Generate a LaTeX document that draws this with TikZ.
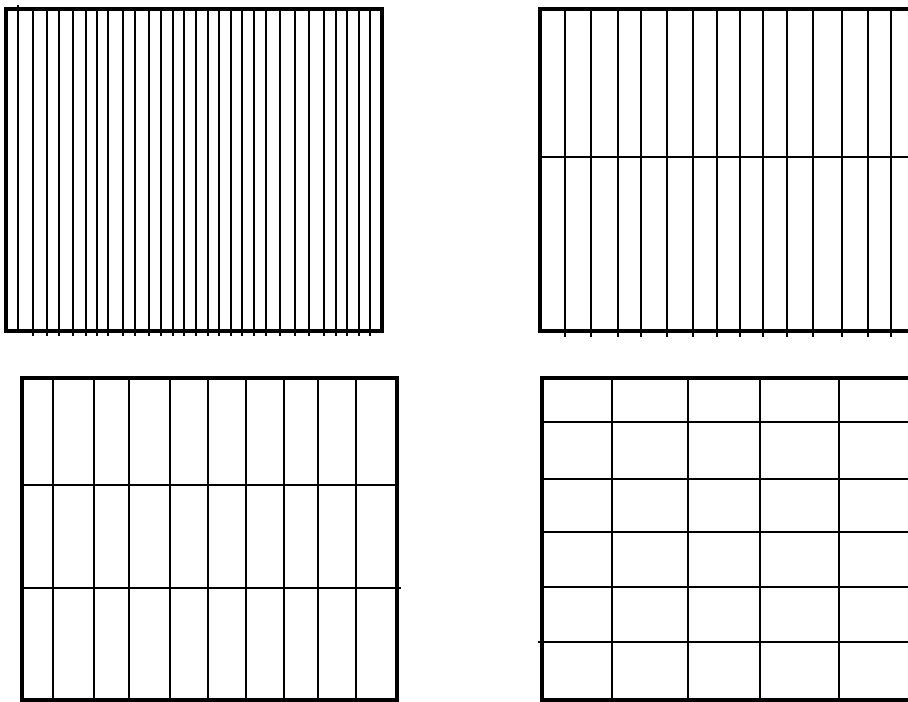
\documentclass[tikz,border=0pt]{standalone}
\usepackage{tikz}
\begin{document}
\begin{tikzpicture}[x=0.02cm,y=-0.02cm,
  frame/.style={line width=2.6pt},
  bar/.style={line width=1pt}]
\useasboundingbox (0,0) rectangle (908,702);
\clip (0,0) rectangle (908,702);
% top left: many strips
\draw[bar] (17.7,5) -- (17.7,331);
\foreach \x in {32.7,47,59,73,86,97,108,123,135,149,161,173,184,196,208,219,231,242,254,266,280,295,309,324,336,347,359,370}
  \draw[bar] (\x,11) -- (\x,336);
\draw[frame] (6,9) rectangle (382,331);
% top right: strips, one cut
\foreach \x in {565,591,618,641,667,693,717,740,763,787,813,842,868,891}
  \draw[bar] (\x,9) -- (\x,337);
\draw[bar] (540,157) -- (908,157);
\draw[frame] (540,9) rectangle (930,331);
% bottom left: wider strips, two cuts
\foreach \x in {53,94,129,170,208,246,284,318,356}
  \draw[bar] (\x,378) -- (\x,700);
\draw[bar] (22,485) -- (397,485);
\draw[bar] (22,588) -- (401,588);
\draw[frame] (22,378) rectangle (397,700);
% bottom right: grid
\foreach \x in {612,688,760,839}
  \draw[bar] (\x,378) -- (\x,700);
\foreach \y in {422,479,532,587}
  \draw[bar] (542,\y) -- (908,\y);
\draw[bar] (538,642) -- (908,642);
\draw[frame] (542,378) rectangle (930,700);
\end{tikzpicture}
\end{document}
